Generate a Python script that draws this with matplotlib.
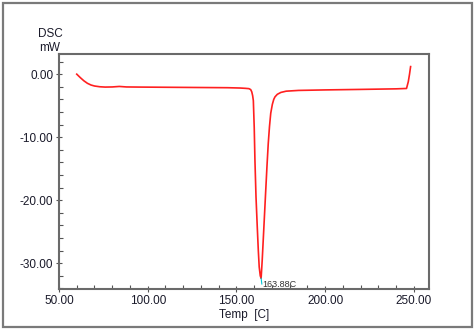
import matplotlib
matplotlib.use("Agg")
import matplotlib.pyplot as plt
from matplotlib.patches import Rectangle
from matplotlib.ticker import MultipleLocator, FormatStrFormatter

# DSC trace (temperature in C, heat flow in mW)
temp = [60.0, 62.0, 64.0, 66.0, 68.0, 70.0, 73.0, 76.0, 80.0, 84.0, 88.0,
        95.0, 110.0, 130.0, 145.0, 152.0, 155.0, 157.0, 158.0, 158.6, 159.1,
        159.5, 160.0, 160.4, 161.0, 161.7, 162.3, 162.8, 163.4, 163.88,
        164.5, 165.4, 166.4, 167.2, 167.9, 168.6, 169.3, 170.2, 171.0, 171.7,
        173.0, 175.0, 178.0, 185.0, 200.0, 220.0, 240.0, 245.8, 246.8, 247.5,
        248.1]
dsc = [0.0, -0.55, -1.05, -1.45, -1.72, -1.88, -2.0, -2.05, -2.03, -1.95,
       -2.03, -2.05, -2.08, -2.12, -2.15, -2.2, -2.25, -2.3, -2.45, -2.8,
       -3.4, -4.2, -8.5, -13.7, -19.5, -24.2, -28.0, -30.6, -32.0, -32.4,
       -29.5, -24.5, -18.9, -14.5, -11.0, -8.3, -6.2, -4.8, -4.0, -3.6,
       -3.2, -2.9, -2.7, -2.58, -2.5, -2.42, -2.33, -2.27, -1.2, 0.0, 1.2]

peak_temp = 163.88
peak_val = -32.4
peak_label = "163.88C"

x_range = (50.0, 258.3)
y_range = (-34.1, 3.2)

plt.rcParams.update({
    "font.family": ["Liberation Sans", "DejaVu Sans"],
    "font.size": 8.5,
})

fig = plt.figure(figsize=(4.74, 3.30), dpi=100)
fig.patch.set_facecolor("white")
fig.patches.append(Rectangle((3 / 474, 3 / 330), 469 / 474, 324 / 330,
                             transform=fig.transFigure, fill=False,
                             edgecolor="#7a7a7a", linewidth=1.6))

ax = fig.add_axes([59 / 474, 41 / 330, 369.7 / 474, 235 / 330])
ax.plot(temp, dsc, color="#ff2020", linewidth=1.2)

# peak marker and label
ax.plot([peak_temp, peak_temp + 0.4], [peak_val, peak_val - 0.9],
        color="#00c8d8", linewidth=0.8)
ax.text(peak_temp + 0.5, peak_val - 0.3, peak_label, fontsize=6.5,
        color="#333333", ha="left", va="top")

ax.set_xlim(*x_range)
ax.set_ylim(*y_range)
ax.xaxis.set_major_locator(MultipleLocator(50))
ax.xaxis.set_minor_locator(MultipleLocator(10))
ax.yaxis.set_major_locator(MultipleLocator(10))
ax.yaxis.set_minor_locator(MultipleLocator(2))
ax.xaxis.set_major_formatter(FormatStrFormatter("%.2f"))
ax.yaxis.set_major_formatter(FormatStrFormatter("%.2f"))

for s in ax.spines.values():
    s.set_color("#6a6a6a")
    s.set_linewidth(1.5)
ax.tick_params(which="major", direction="inout", length=5, width=0.8,
               color="#555555", labelcolor="#1a1a2a", pad=1.5)
ax.tick_params(which="minor", direction="in", length=3, width=0.8,
               color="#555555")

ax.set_xlabel("Temp  [C]", fontsize=8.5, color="#1a1a2a", labelpad=2)
fig.text(50 / 474, 1 - 41 / 330, "DSC\nmW", ha="center", va="center",
         fontsize=8.5, color="#1a1a2a", linespacing=1.25)

fig.savefig("out.png", dpi=100)
